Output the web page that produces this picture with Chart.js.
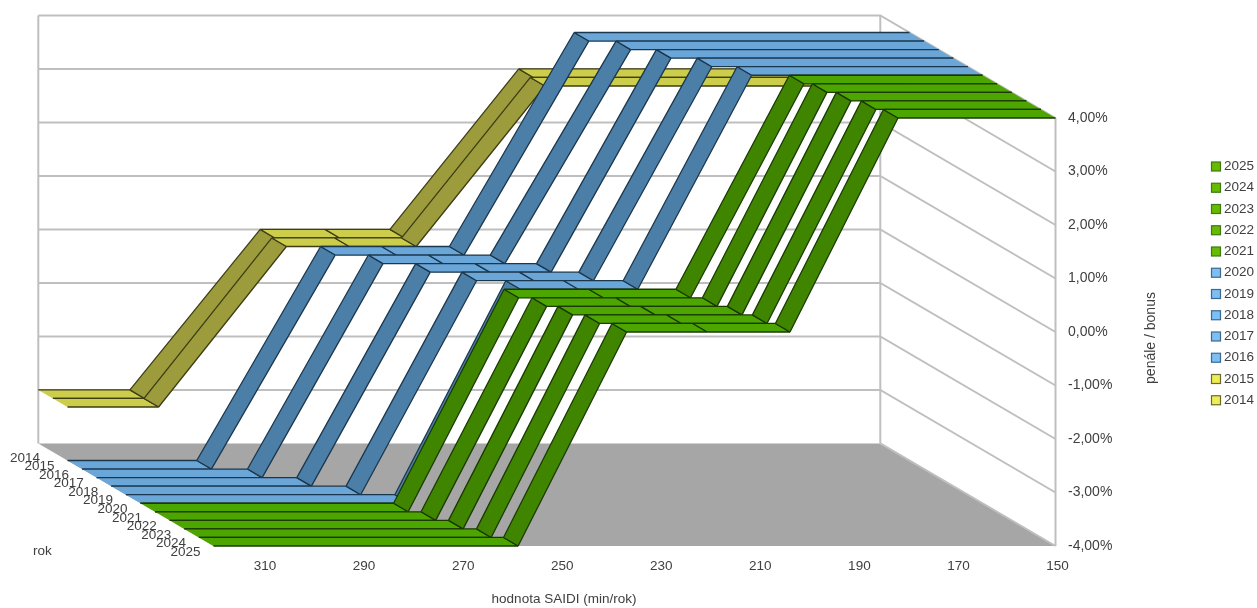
<!DOCTYPE html>
<html lang="cs">
<head>
<meta charset="utf-8">
<title>Penále / bonus podle hodnoty SAIDI</title>
<script src="https://cdn.jsdelivr.net/npm/chart.js@4/dist/chart.umd.min.js"></script>
<style>
  html, body { margin: 0; padding: 0; background: #fff; }
  #wrap { width: 1257px; height: 608px; }
</style>
</head>
<body>
<div id="wrap"><canvas id="chart" width="1257" height="608"></canvas></div>
<script>
// Breakpoints of the penalty/bonus curve, one SAIDI list per regulated year.
const saidi2014 = [320, 301.5, 275.2, 262.1, 249.0, 223.0, 150];
const saidi2015 = [320, 301.6, 275.8, 263.1, 249.6, 223.6, 150];
const saidi2016 = [320, 293.9, 268.9, 256.6, 242.9, 217.7, 150];
const saidi2017 = [320, 286.6, 262.2, 250.1, 237.6, 212.2, 150];
const saidi2018 = [320, 279.6, 255.6, 243.6, 231.2, 207.0, 150];
const saidi2019 = [320, 272.6, 249.2, 237.6, 225.6, 201.7, 150];
const saidi2020 = [320, 265.7, 243.3, 231.6, 219.6, 196.6, 150];
const saidi2021 = [320, 268.9, 246.6, 229.5, 211.9, 189.0, 150];
const saidi2022 = [320, 266.3, 243.9, 227.0, 209.5, 187.3, 150];
const saidi2023 = [320, 263.7, 241.6, 224.9, 207.4, 185.4, 150];
const saidi2024 = [320, 261.0, 239.1, 222.6, 205.3, 183.3, 150];
const saidi2025 = [320, 258.5, 236.6, 220.3, 203.6, 181.8, 150];

// Penalty/bonus levels (%) at those breakpoints.
const levelsNarrow = [-3, -3, 0, 0, 0, 3, 3];
const levelsWide   = [-4, -4, 0, 0, 0, 4, 4];

const years = ['2014','2015','2016','2017','2018','2019','2020','2021','2022','2023','2024','2025'];
const saidiTicks = [310, 290, 270, 250, 230, 210, 190, 170, 150];
const saidiByYear = [saidi2014, saidi2015, saidi2016, saidi2017, saidi2018, saidi2019,
                     saidi2020, saidi2021, saidi2022, saidi2023, saidi2024, saidi2025];
const levelsByYear = [levelsNarrow, levelsNarrow, levelsWide, levelsWide, levelsWide, levelsWide,
                      levelsWide, levelsWide, levelsWide, levelsWide, levelsWide, levelsWide];

const xTitle = 'hodnota SAIDI (min/rok)';
const yTitle = 'penále / bonus';
const depthTitle = 'rok';

const yellow = { top: '#CDCD4C', side: '#9C9C3C', edge: '#3D3D16', swatch: '#EDED55', swatchEdge: '#6B6B30' };
const blue   = { top: '#6BA6D9', side: '#4C7FA8', edge: '#1B374E', swatch: '#7DBEF5', swatchEdge: '#3C6A8E' };
const green  = { top: '#4DA600', side: '#3F8500', edge: '#1A3A00', swatch: '#66BB00', swatchEdge: '#3E7A10' };
const paletteFor = i => (i < 2 ? yellow : i < 7 ? blue : green);

// Oblique projection: every year occupies one slab of depth, 2025 in front.
const SLAB_DX = 14.6;
const SLAB_DY = 8.55;
const SLABS = years.length;

const TEXT = '#404040';
const WALL = '#BFBFBF';
const FLOOR = '#A6A6A6';
const FONT = '"Liberation Sans", Arial, sans-serif';

const scene3d = {
  id: 'scene3d',
  beforeDatasetsDraw(chart) {
    const { ctx, scales: { x, y } } = chart;
    const dx = SLAB_DX * SLABS, dy = SLAB_DY * SLABS;
    const l = x.getPixelForValue(320), r = x.getPixelForValue(150);
    const b = y.getPixelForValue(-4), t = y.getPixelForValue(4);
    ctx.save();
    // floor
    ctx.fillStyle = FLOOR;
    ctx.beginPath();
    ctx.moveTo(l, b); ctx.lineTo(r, b); ctx.lineTo(r - dx, b - dy); ctx.lineTo(l - dx, b - dy);
    ctx.closePath(); ctx.fill();
    // back wall and side wall, one line per y tick
    ctx.strokeStyle = WALL; ctx.lineWidth = 2;
    y.ticks.forEach(tk => {
      const py = y.getPixelForValue(tk.value);
      ctx.beginPath();
      if (tk.value > -4) {
        ctx.moveTo(l - dx, py - dy);
        ctx.lineTo(r - dx, py - dy);
      } else {
        ctx.moveTo(r - dx, py - dy);
      }
      ctx.lineTo(r, py);
      ctx.stroke();
    });
    ctx.beginPath();
    ctx.moveTo(l - dx, t - dy); ctx.lineTo(l - dx, b - dy);
    ctx.moveTo(r - dx, t - dy); ctx.lineTo(r - dx, b - dy);
    ctx.moveTo(r, t); ctx.lineTo(r, b);
    ctx.stroke();
    ctx.restore();
  },
  afterDatasetsDraw(chart) {
    const { ctx } = chart;
    ctx.save();
    ctx.lineJoin = 'round';
    // ribbons, painted from the back slab to the front one
    chart.data.datasets.forEach((ds, i) => {
      const pts = chart.getDatasetMeta(i).data;
      const pal = paletteFor(i);
      const front = SLABS - 1 - i;
      const ox = -SLAB_DX * front, oy = -SLAB_DY * front;
      for (let k = 0; k < pts.length - 1; k++) {
        const ax = pts[k].x + ox, ay = pts[k].y + oy;
        const cx = pts[k + 1].x + ox, cy = pts[k + 1].y + oy;
        const rising = Math.abs(ay - cy) > 0.5;
        ctx.fillStyle = rising ? pal.side : pal.top;
        ctx.beginPath();
        ctx.moveTo(ax, ay); ctx.lineTo(cx, cy);
        ctx.lineTo(cx - SLAB_DX, cy - SLAB_DY); ctx.lineTo(ax - SLAB_DX, ay - SLAB_DY);
        ctx.closePath(); ctx.fill();
        ctx.strokeStyle = pal.edge; ctx.lineWidth = 1.3;
        ctx.beginPath();
        ctx.moveTo(ax, ay); ctx.lineTo(cx, cy);
        ctx.moveTo(ax - SLAB_DX, ay - SLAB_DY); ctx.lineTo(cx - SLAB_DX, cy - SLAB_DY);
        if (k > 0) { ctx.moveTo(ax, ay); ctx.lineTo(ax - SLAB_DX, ay - SLAB_DY); }
        if (k < pts.length - 2) { ctx.moveTo(cx, cy); ctx.lineTo(cx - SLAB_DX, cy - SLAB_DY); }
        ctx.stroke();
      }
    });
    ctx.restore();
    drawLabels(chart);
  }
};

// Year labels along the floor, axis titles and the year key.
function drawLabels(chart) {
  const { ctx, scales: { x, y } } = chart;
  const l = x.getPixelForValue(320), b = y.getPixelForValue(-4);
  ctx.save();
  ctx.fillStyle = TEXT;
  ctx.textBaseline = 'middle';
  ctx.textAlign = 'left';
  ctx.font = '13.5px ' + FONT;
  years.forEach((yr, i) => {
    const front = SLABS - 1 - i;
    ctx.fillText(yr, l - 43 - SLAB_DX * front, b + 6 - SLAB_DY * front);
  });
  ctx.fillText(depthTitle, 33, 551);
  ctx.textAlign = 'center';
  ctx.fillText(xTitle, 564, 599);
  ctx.save();
  ctx.translate(1151, 338);
  ctx.rotate(-Math.PI / 2);
  ctx.font = '14px ' + FONT;
  ctx.fillText(yTitle, 0, 0);
  ctx.restore();

  // key, newest year on top
  ctx.textAlign = 'left';
  ctx.font = '13.5px ' + FONT;
  years.slice().reverse().forEach((yr, n) => {
    const pal = paletteFor(SLABS - 1 - n);
    const cy = 166 + n * 21.25;
    ctx.fillStyle = pal.swatch;
    ctx.strokeStyle = pal.swatchEdge;
    ctx.lineWidth = 1.2;
    ctx.fillRect(1211.5, cy - 4, 9, 9);
    ctx.strokeRect(1211.5, cy - 4, 9, 9);
    ctx.fillStyle = TEXT;
    ctx.fillText(yr, 1224, cy + 0.5);
  });
  ctx.restore();
}

new Chart(document.getElementById('chart'), {
  type: 'scatter',
  plugins: [scene3d],
  data: {
    datasets: years.map((yr, i) => ({
      label: yr,
      data: saidiByYear[i].map((s, k) => ({ x: s, y: levelsByYear[i][k] })),
      showLine: false,
      pointRadius: 0,
      pointHoverRadius: 0,
      backgroundColor: paletteFor(i).top,
      borderColor: paletteFor(i).edge
    }))
  },
  options: {
    responsive: false,
    animation: false,
    events: [],
    layout: { autoPadding: false, padding: { left: 213.5, top: 118, right: 0, bottom: 0 } },
    plugins: { legend: { display: false }, tooltip: { enabled: false }, title: { display: false } },
    scales: {
      x: {
        type: 'linear',
        reverse: true,
        min: 150,
        max: 320,
        afterFit(s) { s.height = 62; },
        afterBuildTicks(s) { s.ticks = saidiTicks.map(v => ({ value: v })); },
        grid: { display: false, drawTicks: false },
        border: { display: false },
        ticks: {
          maxRotation: 0,
          autoSkip: false,
          padding: 12,
          labelOffset: 2,
          color: TEXT,
          font: { family: FONT, size: 13.5 }
        }
      },
      y: {
        type: 'linear',
        position: 'right',
        min: -4,
        max: 4,
        afterFit(s) { s.width = 201.5; },
        grid: { display: false, drawTicks: false },
        border: { display: false },
        ticks: {
          stepSize: 1,
          padding: 12.5,
          color: TEXT,
          font: { family: FONT, size: 14 },
          callback: v => v.toFixed(2).replace('.', ',') + '%'
        }
      }
    }
  }
});
</script>
</body>
</html>
